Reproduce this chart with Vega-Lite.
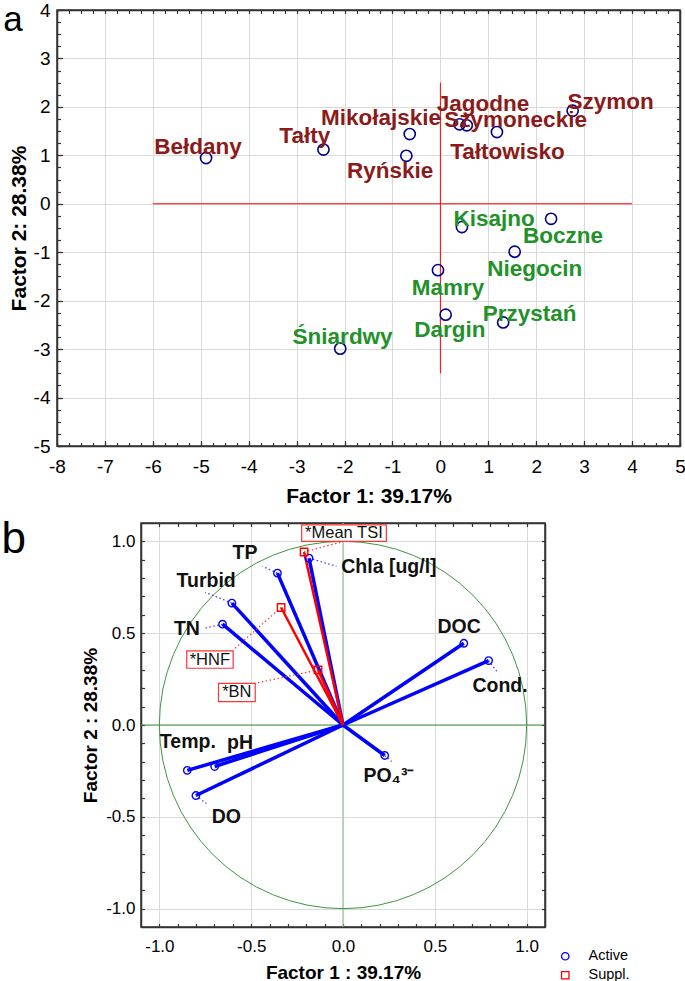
{
  "$schema": "https://vega.github.io/schema/vega-lite/v6.json",
  "background": "white",
  "padding": {"left": 1, "top": 0, "right": 0, "bottom": 0},
  "spacing": 11,
  "resolve": {"scale": {"color": "independent", "shape": "independent"}},
  "config": {
    "font": "Liberation Sans",
    "view": {"stroke": "#333333", "strokeWidth": 1.5},
    "axis": {
      "labelFont": "Liberation Sans",
      "titleFont": "Liberation Sans",
      "labelColor": "#000000",
      "titleColor": "#000000",
      "titleFontWeight": "bold",
      "domainColor": "#333333",
      "domainWidth": 1.5,
      "tickColor": "#333333",
      "tickWidth": 1.2,
      "gridColor": "#d9d9d9",
      "gridWidth": 1,
      "labelOverlap": false,
      "labelFlush": false
    }
  },
  "datasets": {
    "crossA": [
      {"x1": -6, "x2": 4, "y1": 0, "y2": 0},
      {"x1": 0, "x2": 0, "y1": -3.5, "y2": 2.5}
    ],
    "sites": [
      {"name": "Bełdany", "group": "upper", "x": -4.89, "y": 0.945, "lx": -5.06, "ly": 1.17},
      {"name": "Tałty", "group": "upper", "x": -2.44, "y": 1.12, "lx": -2.83, "ly": 1.39},
      {"name": "Mikołajskie", "group": "upper", "x": -0.64, "y": 1.44, "lx": -1.24, "ly": 1.77},
      {"name": "Ryńskie", "group": "upper", "x": -0.71, "y": 0.99, "lx": -1.05, "ly": 0.67},
      {"name": "Jagodne", "group": "upper", "x": 0.40, "y": 1.64, "lx": 0.89, "ly": 2.06},
      {"name": "Szymoneckie", "group": "upper", "x": 0.55, "y": 1.62, "lx": 1.57, "ly": 1.72},
      {"name": "Tałtowisko", "group": "upper", "x": 1.18, "y": 1.48, "lx": 1.40, "ly": 1.07},
      {"name": "Szymon", "group": "upper", "x": 2.76, "y": 1.92, "lx": 3.55, "ly": 2.10},
      {"name": "Kisajno", "group": "lower", "x": 0.45, "y": -0.48, "lx": 1.12, "ly": -0.31},
      {"name": "Boczne", "group": "lower", "x": 2.31, "y": -0.31, "lx": 2.56, "ly": -0.66},
      {"name": "Niegocin", "group": "lower", "x": 1.55, "y": -0.99, "lx": 1.97, "ly": -1.35},
      {"name": "Mamry", "group": "lower", "x": -0.05, "y": -1.37, "lx": 0.16, "ly": -1.74},
      {"name": "Dargin", "group": "lower", "x": 0.11, "y": -2.29, "lx": 0.20, "ly": -2.60},
      {"name": "Przystań", "group": "lower", "x": 1.31, "y": -2.45, "lx": 1.86, "ly": -2.27},
      {"name": "Śniardwy", "group": "lower", "x": -2.09, "y": -2.99, "lx": -2.04, "ly": -2.75}
    ],
    "greenH": [{"x1": -1.1, "x2": 1.1, "y": 0}],
    "greenV": [{"x": 0, "y1": -1.1, "y2": 1.1}],
    "origin": [{"x": 0, "y": 0}],
    "vars": [
      {"name": "TP", "type": "Active", "x": -0.357, "y": 0.827, "lx": -0.534, "ly": 0.936, "ex": -0.438, "ey": 0.864},
      {"name": "Chla [ug/l]", "type": "Active", "x": -0.185, "y": 0.909, "lx": 0.25, "ly": 0.858, "ex": -0.036, "ey": 0.864},
      {"name": "Turbid", "type": "Active", "x": -0.605, "y": 0.664, "lx": -0.745, "ly": 0.782, "ex": -0.75, "ey": 0.722},
      {"name": "TN", "type": "Active", "x": -0.656, "y": 0.549, "lx": -0.85, "ly": 0.524, "ex": -0.755, "ey": 0.527},
      {"name": "DOC", "type": "Active", "x": 0.658, "y": 0.445, "lx": 0.632, "ly": 0.536, "ex": 0.658, "ey": 0.445},
      {"name": "Cond.", "type": "Active", "x": 0.793, "y": 0.351, "lx": 0.855, "ly": 0.215, "ex": 0.839, "ey": 0.291},
      {"name": "Temp.", "type": "Active", "x": -0.848, "y": -0.247, "lx": -0.845, "ly": -0.094, "ex": -0.848, "ey": -0.247},
      {"name": "pH", "type": "Active", "x": -0.699, "y": -0.226, "lx": -0.561, "ly": -0.099, "ex": -0.699, "ey": -0.226},
      {"name": "DO", "type": "Active", "x": -0.801, "y": -0.384, "lx": -0.635, "ly": -0.5, "ex": -0.744, "ey": -0.428},
      {"name": "PO₄³⁻", "type": "Active", "x": 0.227, "y": -0.166, "lx": 0.25, "ly": -0.28, "ex": 0.264, "ey": -0.199},
      {"name": "*Mean TSI", "type": "Suppl.", "x": -0.212, "y": 0.942, "lx": 0.005, "ly": 1.045, "ex": -0.013, "ey": 0.995, "bx1": -0.225, "bx2": 0.236, "by1": 1.0, "by2": 1.09},
      {"name": "*HNF", "type": "Suppl.", "x": -0.337, "y": 0.64, "lx": -0.725, "ly": 0.356, "ex": -0.598, "ey": 0.409, "bx1": -0.851, "bx2": -0.598, "by1": 0.309, "by2": 0.404},
      {"name": "*BN", "type": "Suppl.", "x": -0.136, "y": 0.30, "lx": -0.578, "ly": 0.178, "ex": -0.478, "ey": 0.227, "bx1": -0.678, "bx2": -0.478, "by1": 0.127, "by2": 0.227}
    ]
  },
  "vconcat": [
    {
      "width": 623,
      "height": 436,
      "title": {"text": "a", "orient": "left", "anchor": "end", "frame": "group", "angle": 0, "align": "right", "baseline": "top", "offset": -34, "dy": -7, "fontSize": 35, "fontWeight": "normal", "font": "Liberation Sans", "color": "#000000"},
      "resolve": {"axis": {"x": "independent", "y": "independent"}},
      "layer": [
        {
          "data": {"name": "crossA"},
          "mark": {"type": "rule", "color": "#ff0000", "strokeWidth": 1},
          "encoding": {
            "x": {"field": "x1", "type": "quantitative", "scale": {"domain": [-8, 5], "nice": false, "zero": false},
              "axis": {"orient": "bottom", "values": [-8,-7,-6,-5,-4,-3,-2,-1,0,1,2,3,4,5], "tickSize": -5.5, "labelFontSize": 19, "labelPadding": 16.5, "labelExpr": "datum.value < 0 ? '-' + abs(datum.value) : '' + datum.value", "grid": true, "title": "Factor 1: 39.17%", "titleFontSize": 21, "titlePadding": 9}},
            "x2": {"field": "x2"},
            "y": {"field": "y1", "type": "quantitative", "scale": {"domain": [-5, 4], "nice": false, "zero": false},
              "axis": {"orient": "left", "values": [-5,-4,-3,-2,-1,0,1,2,3,4], "tickSize": -5.5, "labelFontSize": 19, "labelPadding": 12.5, "labelExpr": "datum.value < 0 ? '-' + abs(datum.value) : '' + datum.value", "grid": true, "title": "Factor 2: 28.38%", "titleFontSize": 21, "titlePadding": 4}},
            "y2": {"field": "y2"}
          }
        },
        {
          "data": {"name": "sites"},
          "mark": {"type": "point", "shape": "circle", "filled": false, "color": "#00008b", "strokeWidth": 1.6, "size": 125, "opacity": 1},
          "encoding": {
            "x": {"field": "x", "type": "quantitative", "scale": {"domain": [-8, 5], "nice": false, "zero": false},
              "axis": {"orient": "bottom", "values": [-8,-7.75,-7.5,-7.25,-7,-6.75,-6.5,-6.25,-6,-5.75,-5.5,-5.25,-5,-4.75,-4.5,-4.25,-4,-3.75,-3.5,-3.25,-3,-2.75,-2.5,-2.25,-2,-1.75,-1.5,-1.25,-1,-0.75,-0.5,-0.25,0,0.25,0.5,0.75,1,1.25,1.5,1.75,2,2.25,2.5,2.75,3,3.25,3.5,3.75,4,4.25,4.5,4.75,5], "tickSize": -3.5, "labels": false, "grid": false, "domain": false, "title": null}},
            "y": {"field": "y", "type": "quantitative", "scale": {"domain": [-5, 4], "nice": false, "zero": false},
              "axis": {"orient": "left", "values": [-5,-4.75,-4.5,-4.25,-4,-3.75,-3.5,-3.25,-3,-2.75,-2.5,-2.25,-2,-1.75,-1.5,-1.25,-1,-0.75,-0.5,-0.25,0,0.25,0.5,0.75,1,1.25,1.5,1.75,2,2.25,2.5,2.75,3,3.25,3.5,3.75,4], "tickSize": -3.5, "labels": false, "grid": false, "domain": false, "title": null}}
          }
        },
        {
          "data": {"name": "sites"},
          "mark": {"type": "text", "fontWeight": "bold", "fontSize": 22.5, "font": "Liberation Sans"},
          "encoding": {
            "x": {"field": "lx", "type": "quantitative", "scale": {"domain": [-8, 5], "nice": false, "zero": false},
              "axis": {"orient": "top", "values": [-8,-7.75,-7.5,-7.25,-7,-6.75,-6.5,-6.25,-6,-5.75,-5.5,-5.25,-5,-4.75,-4.5,-4.25,-4,-3.75,-3.5,-3.25,-3,-2.75,-2.5,-2.25,-2,-1.75,-1.5,-1.25,-1,-0.75,-0.5,-0.25,0,0.25,0.5,0.75,1,1.25,1.5,1.75,2,2.25,2.5,2.75,3,3.25,3.5,3.75,4,4.25,4.5,4.75,5], "tickSize": -3.5, "labels": false, "grid": false, "title": null}},
            "y": {"field": "ly", "type": "quantitative", "scale": {"domain": [-5, 4], "nice": false, "zero": false},
              "axis": {"orient": "right", "values": [-5,-4.75,-4.5,-4.25,-4,-3.75,-3.5,-3.25,-3,-2.75,-2.5,-2.25,-2,-1.75,-1.5,-1.25,-1,-0.75,-0.5,-0.25,0,0.25,0.5,0.75,1,1.25,1.5,1.75,2,2.25,2.5,2.75,3,3.25,3.5,3.75,4], "tickSize": -3.5, "labels": false, "grid": false, "title": null}},
            "text": {"field": "name"},
            "color": {"field": "group", "type": "nominal", "scale": {"domain": ["upper", "lower"], "range": ["#8b1a1a", "#22912a"]}, "legend": null}
          }
        }
      ]
    },
    {
      "spacing": 0,
      "hconcat": [
        {
          "width": 23,
          "height": 404,
          "view": {"stroke": null},
          "title": {"text": "b", "orient": "left", "anchor": "end", "frame": "group", "angle": 0, "align": "right", "baseline": "top", "offset": 6.5, "dy": -5, "fontSize": 44, "fontWeight": "normal", "font": "Liberation Sans", "color": "#000000"},
          "data": {"values": []},
          "mark": {"type": "point", "opacity": 0},
          "encoding": {}
        },
        {
          "width": 404,
          "height": 404,
          "resolve": {"axis": {"x": "independent", "y": "independent"}},
          "layer": [
            {
              "data": {"name": "greenH"},
              "mark": {"type": "rule", "color": "#3d963d", "strokeWidth": 1},
              "encoding": {
                "x": {"field": "x1", "type": "quantitative", "scale": {"domain": [-1.1, 1.1], "nice": false, "zero": false},
                  "axis": {"orient": "bottom", "values": [-1,-0.9,-0.8,-0.7,-0.6,-0.5,-0.4,-0.3,-0.2,-0.1,0,0.1,0.2,0.3,0.4,0.5,0.6,0.7,0.8,0.9,1], "tickSize": -3.5, "labelFontSize": 17, "labelPadding": 14.5, "labelExpr": "abs(round(datum.value*10)) % 5 === 0 ? (datum.value < 0 ? '-' : '') + format(abs(datum.value), '.1f') : ''", "grid": true, "gridOpacity": {"condition": {"test": "abs(round(datum.value*10)) % 5 === 0", "value": 1}, "value": 0}, "title": "Factor 1 : 39.17%", "titleFontSize": 19, "titlePadding": 9}},
                "x2": {"field": "x2"},
                "y": {"field": "y", "type": "quantitative", "scale": {"domain": [-1.1, 1.1], "nice": false, "zero": false},
                  "axis": {"orient": "left", "values": [-1,-0.9,-0.8,-0.7,-0.6,-0.5,-0.4,-0.3,-0.2,-0.1,0,0.1,0.2,0.3,0.4,0.5,0.6,0.7,0.8,0.9,1], "tickSize": -3.5, "labelFontSize": 17, "labelPadding": 9.5, "labelExpr": "abs(round(datum.value*10)) % 5 === 0 ? (datum.value < 0 ? '-' : '') + format(abs(datum.value), '.1f') : ''", "grid": true, "gridOpacity": {"condition": {"test": "abs(round(datum.value*10)) % 5 === 0", "value": 1}, "value": 0}, "title": "Factor 2 : 28.38%", "titleFontSize": 19, "titlePadding": 5}}
              }
            },
            {
              "data": {"name": "greenV"},
              "mark": {"type": "rule", "color": "#94cc94", "strokeWidth": 1.2},
              "encoding": {
                "x": {"field": "x", "type": "quantitative", "scale": {"domain": [-1.1, 1.1], "nice": false, "zero": false},
                  "axis": {"orient": "top", "values": [-1,-0.9,-0.8,-0.7,-0.6,-0.5,-0.4,-0.3,-0.2,-0.1,0,0.1,0.2,0.3,0.4,0.5,0.6,0.7,0.8,0.9,1], "tickSize": -3.5, "labels": false, "grid": false, "title": null}},
                "y": {"field": "y1", "type": "quantitative", "scale": {"domain": [-1.1, 1.1], "nice": false, "zero": false},
                  "axis": {"orient": "right", "values": [-1,-0.9,-0.8,-0.7,-0.6,-0.5,-0.4,-0.3,-0.2,-0.1,0,0.1,0.2,0.3,0.4,0.5,0.6,0.7,0.8,0.9,1], "tickSize": -3.5, "labels": false, "grid": false, "title": null}},
                "y2": {"field": "y2"}
              }
            },
            {
              "data": {"name": "origin"},
              "mark": {"type": "point", "shape": "circle", "filled": false, "color": "#3d963d", "strokeWidth": 1, "size": 134900, "opacity": 1},
              "encoding": {
                "x": {"field": "x", "type": "quantitative", "axis": null},
                "y": {"field": "y", "type": "quantitative", "axis": null}
              }
            },
            {
              "data": {"name": "vars"},
              "transform": [{"filter": "datum.type === 'Active'"}],
              "mark": {"type": "rule", "color": "#0000ff", "strokeWidth": 3.5},
              "encoding": {
                "x": {"field": "x", "type": "quantitative", "axis": null},
                "y": {"field": "y", "type": "quantitative", "axis": null},
                "x2": {"datum": 0},
                "y2": {"datum": 0}
              }
            },
            {
              "data": {"name": "vars"},
              "transform": [{"filter": "datum.type === 'Suppl.'"}],
              "mark": {"type": "rule", "color": "#ff0000", "strokeWidth": 2.5},
              "encoding": {
                "x": {"field": "x", "type": "quantitative", "axis": null},
                "y": {"field": "y", "type": "quantitative", "axis": null},
                "x2": {"datum": 0},
                "y2": {"datum": 0}
              }
            },
            {
              "data": {"name": "vars"},
              "transform": [{"filter": "datum.type === 'Active'"}],
              "mark": {"type": "rule", "color": "#3333ff", "strokeDash": [1.5, 2.5], "strokeWidth": 1.2},
              "encoding": {
                "x": {"field": "x", "type": "quantitative", "axis": null},
                "y": {"field": "y", "type": "quantitative", "axis": null},
                "x2": {"field": "ex"},
                "y2": {"field": "ey"}
              }
            },
            {
              "data": {"name": "vars"},
              "transform": [{"filter": "datum.type === 'Suppl.'"}],
              "mark": {"type": "rule", "color": "#ff3333", "strokeDash": [1.5, 2.5], "strokeWidth": 1.2},
              "encoding": {
                "x": {"field": "x", "type": "quantitative", "axis": null},
                "y": {"field": "y", "type": "quantitative", "axis": null},
                "x2": {"field": "ex"},
                "y2": {"field": "ey"}
              }
            },
            {
              "data": {"name": "vars"},
              "transform": [{"filter": "datum.type === 'Suppl.'"}],
              "mark": {"type": "rect", "fill": "#ffffff", "stroke": "#ff3333", "strokeWidth": 1.2},
              "encoding": {
                "x": {"field": "bx1", "type": "quantitative", "axis": null},
                "x2": {"field": "bx2"},
                "y": {"field": "by1", "type": "quantitative", "axis": null},
                "y2": {"field": "by2"}
              }
            },
            {
              "data": {"name": "vars"},
              "mark": {"type": "point", "filled": false, "strokeWidth": 1.4, "size": 55, "opacity": 1},
              "encoding": {
                "x": {"field": "x", "type": "quantitative", "axis": null},
                "y": {"field": "y", "type": "quantitative", "axis": null},
                "color": {"field": "type", "type": "nominal", "scale": {"domain": ["Active", "Suppl."], "range": ["#0000ff", "#ff0000"]}, "legend": {"orient": "none", "legendX": 501, "legendY": 426, "title": null, "labelFontSize": 14.5, "labelFont": "Liberation Sans", "symbolStrokeWidth": 1.3, "symbolSize": 55, "rowPadding": 4, "padding": 0, "labelOffset": 16}},
                "shape": {"field": "type", "type": "nominal", "scale": {"domain": ["Active", "Suppl."], "range": ["circle", "square"]}, "legend": {"orient": "none", "legendX": 501, "legendY": 426, "title": null, "labelFontSize": 14.5, "labelFont": "Liberation Sans", "symbolStrokeWidth": 1.3, "symbolSize": 55, "rowPadding": 4, "padding": 0, "labelOffset": 16}}
              }
            },
            {
              "data": {"name": "vars"},
              "transform": [{"filter": "datum.type === 'Active'"}],
              "mark": {"type": "text", "fontWeight": "bold", "fontSize": 19.5, "font": "Liberation Sans", "color": "#111111"},
              "encoding": {
                "x": {"field": "lx", "type": "quantitative", "axis": null},
                "y": {"field": "ly", "type": "quantitative", "axis": null},
                "text": {"field": "name"}
              }
            },
            {
              "data": {"name": "vars"},
              "transform": [{"filter": "datum.type === 'Suppl.'"}],
              "mark": {"type": "text", "fontWeight": "normal", "fontSize": 16.5, "font": "Liberation Sans", "color": "#111111"},
              "encoding": {
                "x": {"field": "lx", "type": "quantitative", "axis": null},
                "y": {"field": "ly", "type": "quantitative", "axis": null},
                "text": {"field": "name"}
              }
            }
          ]
        }
      ]
    }
  ]
}
